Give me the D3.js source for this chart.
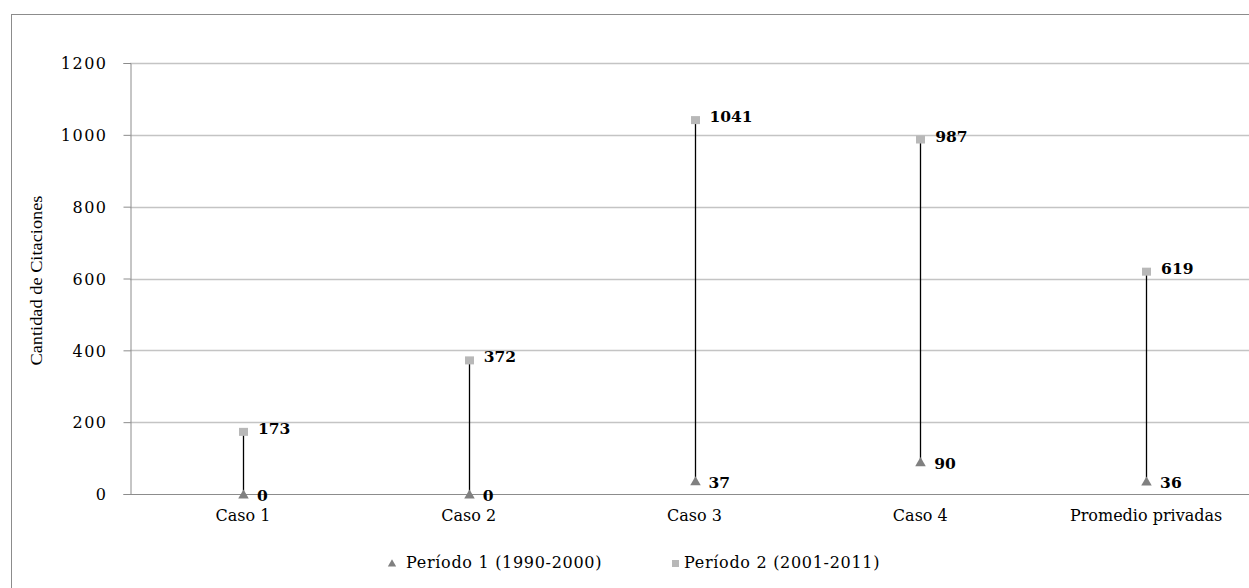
<!DOCTYPE html>
<html>
<head>
<meta charset="utf-8">
<script src="https://cdn.jsdelivr.net/npm/d3@7"></script>
<style>
  body { margin: 0; background: #fff; }
</style>
</head>
<body>
<svg id="chart"></svg>
<script>
// chart data
const categories = ['Caso 1', 'Caso 2', 'Caso 3', 'Caso 4', 'Promedio privadas'];
const periodo1 = [0, 0, 37, 90, 36];
const periodo2 = [173, 372, 1041, 987, 619];
const yTicks = [0, 200, 400, 600, 800, 1000, 1200];
const seriesNames = ['Período 1 (1990-2000)', 'Período 2 (2001-2011)'];

const SERIF = '"DejaVu Serif", serif';
const width = 1249, height = 588;
const svg = d3.select('#chart')
  .attr('width', width).attr('height', height)
  .attr('font-family', SERIF);

// outer frame (chart is cut off on the right and bottom)
svg.append('rect')
  .attr('x', 11.5).attr('y', 14.5)
  .attr('width', 1260).attr('height', 600)
  .attr('fill', 'none').attr('stroke', '#8c8c8c').attr('stroke-width', 1);

const plot = {left: 130, top: 63, bottom: 494, right: 1259};

const x = d3.scaleBand().domain(categories).range([plot.left, plot.right]);
const y = d3.scaleLinear().domain([0, 1200]).range([plot.bottom, plot.top]);

// gridlines
svg.append('g').selectAll('line')
  .data(yTicks.filter(d => d > 0))
  .join('line')
    .attr('x1', plot.left).attr('x2', width)
    .attr('y1', d => Math.round(y(d)) + 0.5).attr('y2', d => Math.round(y(d)) + 0.5)
    .attr('stroke', '#c4c4c4').attr('stroke-width', 1.3);

// y axis
const yAxis = svg.append('g')
  .attr('transform', `translate(${plot.left + 0.5},0)`)
  .call(d3.axisLeft(y).tickValues(yTicks).tickFormat(d3.format('d')).tickSize(7).tickPadding(16))
  .attr('font-family', SERIF).attr('font-size', 16);
yAxis.select('.domain').attr('stroke', '#8c8c8c');
yAxis.selectAll('.tick line').attr('stroke', '#8c8c8c');
yAxis.selectAll('.tick text')
  .attr('fill', '#000').attr('letter-spacing', 1.5).attr('dy', '0.36em');

// x axis
const xAxis = svg.append('g')
  .attr('transform', `translate(0,${Math.round(plot.bottom) + 0.5})`)
  .call(d3.axisBottom(x).tickSize(0).tickPadding(15))
  .attr('font-family', SERIF).attr('font-size', 16);
xAxis.select('.domain').remove();
xAxis.append('line')
  .attr('x1', plot.left).attr('x2', width)
  .attr('stroke', '#8c8c8c');
xAxis.selectAll('.tick text').attr('fill', '#000');

// y axis title
svg.append('text')
  .attr('transform', `translate(42,${(plot.top + plot.bottom) / 2 + 2}) rotate(-90)`)
  .attr('text-anchor', 'middle')
  .attr('font-size', 17)
  .attr('font-family', '"Liberation Serif", serif')
  .attr('textLength', 170).attr('lengthAdjust', 'spacingAndGlyphs')
  .text('Cantidad de Citaciones');

const cx = d => x(d) + x.bandwidth() / 2;

// high-low lines
svg.append('g').selectAll('line')
  .data(categories)
  .join('line')
    .attr('x1', d => Math.round(cx(d)) + 0.5).attr('x2', d => Math.round(cx(d)) + 0.5)
    .attr('y1', (d, i) => y(periodo1[i]))
    .attr('y2', (d, i) => y(periodo2[i]))
    .attr('stroke', '#000').attr('stroke-width', 1.3);

// triangles (periodo 1), centred on the value
const tri = d3.symbol().type(d3.symbolTriangle).size(48);
svg.append('g').selectAll('path')
  .data(categories)
  .join('path')
    .attr('d', tri)
    .attr('transform', (d, i) => `translate(${Math.round(cx(d)) + 0.5},${y(periodo1[i]) + 1.5})`)
    .attr('fill', '#808080');

// squares (periodo 2)
svg.append('g').selectAll('rect')
  .data(categories)
  .join('rect')
    .attr('x', d => Math.round(cx(d)) - 4).attr('y', (d, i) => y(periodo2[i]) - 4)
    .attr('width', 9).attr('height', 8)
    .attr('fill', '#b8b8b8');

// data labels
const labels = svg.append('g')
  .attr('font-size', 15.5).attr('font-weight', 'bold').attr('fill', '#000');
labels.selectAll('.l1')
  .data(categories)
  .join('text')
    .attr('class', 'l1')
    .attr('x', d => cx(d) + 14)
    .attr('y', (d, i) => y(periodo1[i]) + 7)
    .text((d, i) => periodo1[i]);
labels.selectAll('.l2')
  .data(categories)
  .join('text')
    .attr('class', 'l2')
    .attr('x', d => cx(d) + 15)
    .attr('y', (d, i) => y(periodo2[i]) + 2)
    .text((d, i) => periodo2[i]);

// legend
const legend = svg.append('g').attr('font-size', 16).attr('letter-spacing', 0.7);
legend.append('path')
  .attr('d', d3.symbol().type(d3.symbolTriangle).size(30))
  .attr('transform', 'translate(392,564)')
  .attr('fill', '#808080');
legend.append('text').attr('x', 406).attr('y', 568).text(seriesNames[0]);
legend.append('rect')
  .attr('x', 672).attr('y', 560).attr('width', 7).attr('height', 7)
  .attr('fill', '#b8b8b8');
legend.append('text').attr('x', 684).attr('y', 568).text(seriesNames[1]);
</script>
</body>
</html>
